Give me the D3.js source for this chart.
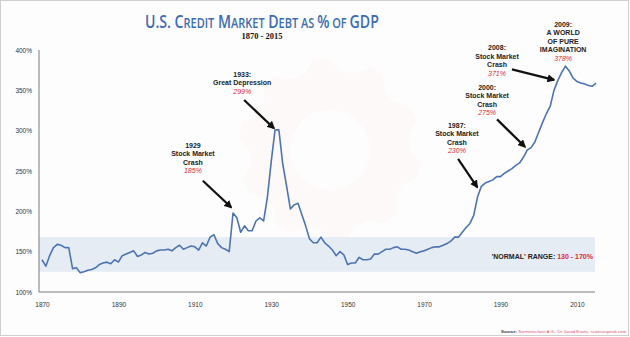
<!DOCTYPE html>
<html>
<head>
<meta charset="utf-8">
<script src="https://cdn.jsdelivr.net/npm/d3@7"></script>
<style>
  body { margin: 0; background: #fff; }
  svg { display: block; }
  .tick-label { font-family: "Liberation Sans", Arial, sans-serif; font-size: 6.5px; fill: #333; }
  .note { font-family: "Liberation Sans", Arial, sans-serif; font-size: 7px; font-weight: bold; fill: #222; }
  .pct { font-family: "Liberation Sans", Arial, sans-serif; font-size: 7px; font-style: italic; fill: #e0262f; }
</style>
</head>
<body>
<div id="chart"></div>
<script>
// chart size
var svgWidth = 630;
var svgHeight = 337;

// data: US credit market debt as % of GDP, one value per year from 1870
var firstYear = 1870;
var debtPct = [
  140, 132, 145, 155, 159, 158, 155, 155, 129, 130,   // 1870s
  124, 125, 127, 128, 130, 134, 136, 137, 135, 140,   // 1880s
  137, 145, 147, 149, 151, 144, 146, 149, 147, 148,   // 1890s
  151, 152, 152, 153, 151, 155, 158, 153, 155, 157,   // 1900s
  156, 152, 161, 157, 168, 171, 160, 155, 153, 150,   // 1910s
  198, 192, 174, 182, 176, 176, 188, 192, 188, 218,   // 1920s
  262, 301, 301, 259, 232, 203, 208, 210, 196, 182,   // 1930s
  166, 161, 161, 168, 161, 157, 152, 145, 150, 146,   // 1940s
  134, 136, 136, 143, 140, 140, 141, 147, 147, 150,   // 1950s
  153, 153, 155, 156, 153, 153, 152, 150, 148, 150,   // 1960s
  151, 153, 155, 156, 156, 158, 160, 163, 168, 168,   // 1970s
  174, 180, 185, 195, 218, 231, 235, 237, 239, 243,   // 1980s
  243, 247, 250, 253, 257, 260, 267, 276, 279, 286,   // 1990s
  298, 310, 321, 330, 350, 362, 372, 380, 374, 365,   // 2000s
  361, 359, 358, 356, 355, 359                        // 2010s
];
var series = debtPct.map(function(v, i) { return { year: firstYear + i, value: v }; });

var yTicks = [100, 150, 200, 250, 300, 350, 400];
var xTicks = [1870, 1890, 1910, 1930, 1950, 1970, 1990, 2010];
var normalBand = [125, 168];   // shaded band as drawn

// annotations: text block centre (year, %) for its first line, arrow from/to in data units
var notes = [
  { lines: ["1929", "Stock Market", "Crash"], pct: "185%", tx: 1909.5, ty: 282, from: [1912.1, 238], to: [1919.5, 205] },
  { lines: ["1933:", "Great Depression"], pct: "299%", tx: 1922.4, ty: 370, from: [1922.9, 338], to: [1930.7, 303] },
  { lines: ["1987:", "Stock Market", "Crash"], pct: "230%", tx: 1978.6, ty: 307, from: [1978.9, 265], to: [1983.9, 230] },
  { lines: ["2000:", "Stock Market", "Crash"], pct: "275%", tx: 1986.5, ty: 354, from: [1989.1, 314], to: [1996.4, 280] },
  { lines: ["2008:", "Stock Market", "Crash"], pct: "371%", tx: 1989.1, ty: 402.5, from: [1993.0, 376], to: [2004.0, 363] },
  { lines: ["2009:", "A WORLD", "OF PURE", "IMAGINATION"], pct: "378%", tx: 2006.4, ty: 432, from: null, to: null }
];

var svg = d3.select("#chart")
  .append("svg")
  .attr("width", svgWidth)
  .attr("height", svgHeight);

// frame
svg.append("rect")
  .attr("x", 0.5).attr("y", 0.5)
  .attr("width", svgWidth - 2).attr("height", svgHeight - 2)
  .attr("fill", "#fefdfd")
  .attr("stroke", "#cfcfcf");

// very faint gear watermark behind the plot
var teeth = 10, rOut = 92, rIn = 80;
var gearPts = [];
for (var k = 0; k < teeth * 4; k++) {
  var a = k / (teeth * 4) * 2 * Math.PI;
  var r = (k % 4 < 2) ? rOut : rIn;
  gearPts.push([Math.cos(a) * r, Math.sin(a) * r]);
}
svg.append("path")
  .attr("transform", "translate(330,150) rotate(8)")
  .attr("d", d3.line().curve(d3.curveLinearClosed)(gearPts))
  .attr("fill", "#fdf9f9");
svg.append("circle").attr("cx", 330).attr("cy", 150).attr("r", 40).attr("fill", "#fefdfd");

// scales
var xScale = d3.scaleLinear().domain([1870, 2015]).range([42, 596]);
var yScale = d3.scaleLinear().domain([100, 400]).range([292, 50]);

// normal range band
svg.append("rect")
  .attr("x", 39)
  .attr("y", yScale(normalBand[1]))
  .attr("width", 595 - 39)
  .attr("height", yScale(normalBand[0]) - yScale(normalBand[1]))
  .attr("fill", "#e6ecf3");

// axes (no ticks, just lines and labels)
var leftAxis = d3.axisLeft(yScale).tickValues(yTicks).tickSize(0).tickPadding(7)
  .tickFormat(function(d) { return d + "%"; });
var bottomAxis = d3.axisBottom(xScale).tickValues(xTicks).tickSize(0).tickPadding(10)
  .tickFormat(d3.format("d"));

var gy = svg.append("g").attr("transform", "translate(39,0)").call(leftAxis);
gy.select(".domain").attr("stroke", "#7a7a7a").attr("d", "M0," + yScale(400) + "V" + yScale(100));
gy.selectAll("text").attr("class", "tick-label").attr("font-size", null).attr("font-family", null);

var gx = svg.append("g").attr("transform", "translate(0,292)").call(bottomAxis);
gx.select(".domain").attr("stroke", "#7a7a7a").attr("d", "M39,0H595");
gx.selectAll("text").attr("class", "tick-label").attr("font-size", null).attr("font-family", null);

// the line
var line = d3.line()
  .x(function(d) { return xScale(d.year); })
  .y(function(d) { return yScale(d.value); });

svg.append("path")
  .datum(series)
  .attr("fill", "none")
  .attr("stroke", "#4d74b0")
  .attr("stroke-width", 1.6)
  .attr("stroke-linejoin", "round")
  .attr("d", line);

// normal range label
var bandLabel = svg.append("text")
  .attr("class", "note")
  .attr("x", 593)
  .attr("y", 258.5)
  .attr("text-anchor", "end");
bandLabel.append("tspan").text("'NORMAL' RANGE: ");
bandLabel.append("tspan").attr("fill", "#e0262f").text("130 - 170%");

// arrowhead
svg.append("defs").append("marker")
  .attr("id", "arrow")
  .attr("viewBox", "0 0 10 10")
  .attr("refX", 8).attr("refY", 5)
  .attr("markerWidth", 3.7).attr("markerHeight", 3.7)
  .attr("orient", "auto")
  .append("path")
  .attr("d", "M0,0L10,5L0,10z")
  .attr("fill", "#111");

// annotations
notes.forEach(function(n) {
  var x = xScale(n.tx);
  var y0 = yScale(n.ty) + 2.5;
  n.lines.forEach(function(t, i) {
    svg.append("text").attr("class", "note")
      .attr("x", x).attr("y", y0 + i * 8.5)
      .attr("text-anchor", "middle").text(t);
  });
  svg.append("text").attr("class", "pct")
    .attr("x", x).attr("y", y0 + n.lines.length * 8.5)
    .attr("text-anchor", "middle").text(n.pct);
  if (n.from) {
    svg.append("line")
      .attr("x1", xScale(n.from[0])).attr("y1", yScale(n.from[1]))
      .attr("x2", xScale(n.to[0])).attr("y2", yScale(n.to[1]))
      .attr("stroke", "#111").attr("stroke-width", 2.2)
      .attr("marker-end", "url(#arrow)");
  }
});

// title in small caps, stretched to the reference width
var titleG = svg.append("g");
var title = titleG.append("text")
  .attr("x", 0).attr("y", 0)
  .attr("font-family", "'Open Sans', 'Noto Sans', sans-serif")
  .attr("font-weight", 600)
  .attr("fill", "#3c6db2");
var parts = [["U.S. C", 18], ["REDIT", 14], [" M", 18], ["ARKET", 14], [" D", 18], ["EBT", 14],
             [" AS ", 14], ["%", 18], [" OF ", 14], ["GDP", 18]];
parts.forEach(function(p) {
  title.append("tspan").attr("font-size", p[1]).text(p[0]);
});
var natural = title.node().getComputedTextLength();
var sx = 234 / natural;
titleG.attr("transform", "translate(" + (262 - 117) + ",27.5) scale(" + sx + ",1)");

svg.append("text")
  .attr("x", 262).attr("y", 39)
  .attr("text-anchor", "middle")
  .attr("font-family", "'Liberation Serif', 'Times New Roman', serif")
  .attr("font-weight", "bold")
  .attr("font-size", 8.5)
  .attr("fill", "#111")
  .text("1870 - 2015");

// source
var src = svg.append("text")
  .attr("x", 626).attr("y", 333)
  .attr("text-anchor", "end")
  .attr("font-family", "'Liberation Sans', Arial, sans-serif")
  .attr("font-size", 4.3);
src.append("tspan").attr("font-weight", "bold").attr("fill", "#333").text("Source: ");
src.append("tspan").attr("fill", "#e0507a").text("Sonnenschein A.G., Dr. David Evans, sciencespeak.com");
</script>
</body>
</html>
